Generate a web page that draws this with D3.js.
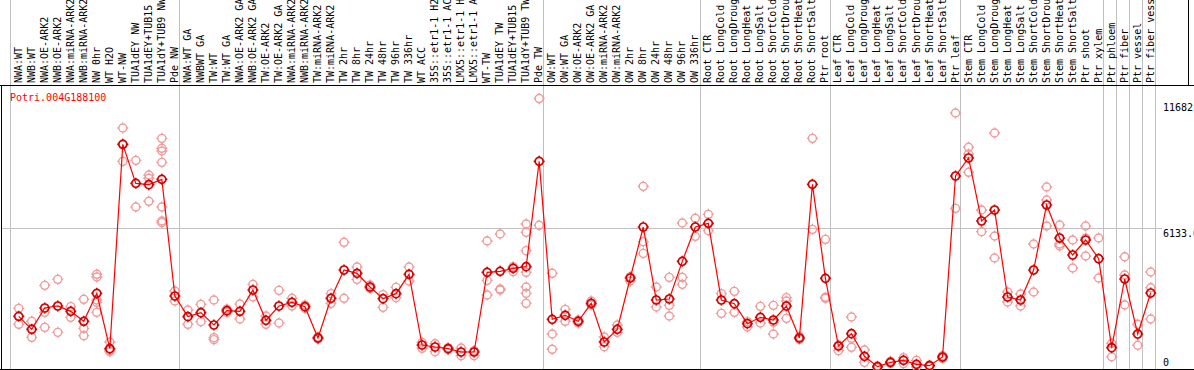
<!DOCTYPE html>
<html>
<head>
<meta charset="utf-8">
<script src="https://cdn.jsdelivr.net/npm/d3@7"></script>
<style>
  html, body { margin: 0; padding: 0; background: #fff; overflow: hidden; }
  svg { display: block; }
  text { font-family: "DejaVu Sans Mono", "Liberation Mono", monospace; font-size: 10px; }
</style>
</head>
<body>
<svg id="chart" width="1194" height="370"></svg>
<script>
const seriesName = "Potri.004G188100";

const categories = [
  "NWA:WT", "NWB:WT", "NWA:OE-ARK2", "NWB:OE-ARK2", "NWA:miRNA-ARK2", "NWB:miRNA-ARK2",
  "NW 0hr", "WT H2O", "WT-NW", "TUA1dEY NW", "TUA1dEY+TUB15 NW", "TUA1dY+TUB9 NW", "Pde NW",
  "NWA:WT GA", "NWBWT GA", "TW:WT", "TW:WT GA", "NWA:OE-ARK2 GA", "NWB:OE-ARK2 GA",
  "TW:OE-ARK2", "TW:OE-ARK2 GA", "NWA:miRNA-ARK2 GA", "NWB:miRNA-ARK2 GA", "TW:miRNA-ARK2",
  "TW:miRNA-ARK2 GA", "TW 2hr", "TW 8hr", "TW 24hr", "TW 48hr", "TW 96hr", "TW 336hr",
  "WT ACC", "35S::etr1-1 H2O", "35S::etr1-1 ACC", "LMX5::etr1-1 H2O", "LMX5::etr1-1 ACC",
  "WT-TW", "TUA1dEY TW", "TUA1dEY+TUB15 TW", "TUA1dY+TUB9 TW", "Pde TW",
  "OW:WT", "OW:WT GA", "OW:OE-ARK2", "OW:OE-ARK2 GA", "OW:miRNA-ARK2", "OW:miRNA-ARK2 GA",
  "OW 2hr", "OW 8hr", "OW 24hr", "OW 48hr", "OW 96hr", "OW 336hr",
  "Root CTR", "Root LongCold", "Root LongDrought", "Root LongHeat", "Root LongSalt",
  "Root ShortCold", "Root ShortDrought", "Root ShortHeat", "Root ShortSalt", "Ptr root",
  "Leaf CTR", "Leaf LongCold", "Leaf LongDrought", "Leaf LongHeat", "Leaf LongSalt",
  "Leaf ShortCold", "Leaf ShortDrought", "Leaf ShortHeat", "Leaf ShortSalt", "Ptr leaf",
  "Stem CTR", "Stem LongCold", "Stem LongDrought", "Stem LongHeat", "Stem LongSalt",
  "Stem ShortCold", "Stem ShortDrought", "Stem ShortHeat", "Stem ShortSalt", "Ptr shoot", "Ptr xylem",
  "Ptr phloem", "Ptr fiber", "Ptr vessel", "Ptr fiber vessel"
];

// index of the last category of every block (separator drawn after it)
const groupEnds = [12, 40, 52, 62, 72, 83, 84, 85, 86, 87];

const meanValues = [
  2310, 1750, 2669, 2755, 2525, 2095, 3300, 918, 9713, 8034, 7977, 8206, 3185,
  2296, 2468, 1937, 2554, 2525, 3443, 2138, 2755, 2912, 2726, 1377, 3085, 4304, 4161,
  3572, 3070, 3285, 4118, 1076, 990, 918, 775, 775, 4204, 4247, 4376, 4448, 8981,
  2181, 2353, 2095, 2869, 1205, 1750, 3960, 6155, 3013, 3056, 4677, 6155,
  6313, 3013, 2855, 1994, 2267, 2152, 2755, 1377, 7991, 3945,
  1033, 1564, 588, 143, 330, 416, 244, 187, 560, 8350,
  9125, 6413, 6886, 3142, 3013, 4304, 7102, 5681, 4950, 5595, 4790,
  960, 3917, 1549, 3314
];

const replicateValues = [
  [2654, 1966], [2095, 1406], [3644, 2482, 1836], [3902, 1621], [2726, 2267],
  [3042, 1793, 1478], [4118, 4003, 3013, 2912, 2482], [1205, 846, 789, 900],
  [10416, 9713, 8981], [9024, 7016], [8393, 8250, 7260],
  [9971, 9541, 9426, 8938, 7016, 6413, 6341], [3400, 2970],
  [2582, 1966], [2826, 2080], [3013, 1392, 1306], [2626, 2482], [2841, 2195],
  [3687, 3142], [2324, 1966], [3429, 2023], [3085, 2755], [2798, 2654],
  [1420, 1334], [3285, 2869], [5495, 3085], [4433, 3902], [3659, 3515],
  [3242, 2697], [3558, 3113], [4433, 3831], [1191, 933], [1133, 789],
  [961, 875], [947, 617], [832, 617], [5552, 3859, 3228], [5854, 3486, 3443],
  [4448, 4232], [6284, 5925, 5136, 4204, 3572, 3300, 2869], [11682, 6227],
  [4161, 1549, 890], [2611, 2095], [2152, 2023], [2970, 2798], [1420, 1004],
  [1937, 1621], [4017, 3831], [7905, 5524, 5021], [3572, 2712],
  [3988, 2783, 2324], [6327, 3988, 3687], [6528, 5753],
  [6700, 5997], [3285, 2439], [3386, 2482], [2080, 1851], [2740, 2023],
  [2783, 2052, 1549], [3113, 2970, 2224], [1435, 1320], [9971, 6054],
  [5624, 3128, 3085],
  [1076, 832], [2281, 1363, 976], [861, 330], [172, 100], [373, 287],
  [531, 273], [416, 143], [215, 158], [617, 502], [11062, 6958],
  [9584, 9297, 8508], [6887, 5954], [10200, 5767, 4820], [3357, 2927],
  [3271, 2755], [5423, 3357], [7876, 7317, 6198], [6241, 5423, 5337],
  [5595, 4390], [6198, 5681, 4907], [5681, 3960],
  [1149, 572], [4876, 4089, 2798], [1967, 1063], [4218, 3542, 2195]
];

const width = 1194;
const height = 370;
const headerBottom = 85;
const plotLeft = 10;
const plotRight = 1155;
const plotBottom = 370;

const dataMax = d3.max(replicateValues.flat());
const yMax = dataMax * 1.05;
const yTicks = [0, yMax / 2, dataMax];

const svg = d3.select("#chart");

const x = d3.scaleBand()
  .domain(d3.range(categories.length))
  .range([plotLeft, plotRight]);
const px = i => x(i) + x.bandwidth() * 0.67;

const y = d3.scaleLinear()
  .domain([0, yMax])
  .range([plotBottom, headerBottom]);

// separators between blocks, through header and plot
const sepIdx = [0].concat(groupEnds.map(d => d + 1));
svg.append("g")
  .selectAll("line")
  .data(sepIdx)
  .enter()
  .append("line")
  .attr("x1", d => Math.round(d < categories.length ? x(d) : plotRight) + 0.5)
  .attr("x2", d => Math.round(d < categories.length ? x(d) : plotRight) + 0.5)
  .attr("y1", 0)
  .attr("y2", height - 1)
  .attr("stroke", "#c0c0c0")
  .attr("shape-rendering", "crispEdges");

// middle gridline
svg.append("line")
  .attr("x1", 1)
  .attr("x2", 1162)
  .attr("y1", Math.round(y(yMax / 2)) + 0.5)
  .attr("y2", Math.round(y(yMax / 2)) + 0.5)
  .attr("stroke", "#c0c0c0")
  .attr("shape-rendering", "crispEdges");

// frame
const frame = svg.append("g").attr("stroke", "#000").attr("shape-rendering", "crispEdges");
frame.append("line").attr("x1", 0).attr("x2", width).attr("y1", headerBottom + 0.5).attr("y2", headerBottom + 0.5);
frame.append("line").attr("x1", 0).attr("x2", width).attr("y1", height - 0.5).attr("y2", height - 0.5);
frame.append("line").attr("x1", 1.5).attr("x2", 1.5).attr("y1", headerBottom).attr("y2", height);
frame.append("line").attr("x1", 1188.5).attr("x2", 1188.5).attr("y1", 0).attr("y2", headerBottom);

// category labels, rotated
svg.append("g")
  .selectAll("text")
  .data(categories)
  .enter()
  .append("text")
  .attr("transform", (d, i) => `translate(${px(i) + 3},${headerBottom - 2}) rotate(-90)`)
  .attr("fill", "#000")
  .text(d => d);

// y labels on the right
svg.append("g")
  .selectAll("text")
  .data(yTicks)
  .enter()
  .append("text")
  .attr("x", 1163)
  .attr("y", d => Math.max(111, Math.min(366, y(d) + 9)))
  .attr("fill", "#000")
  .text(d => String(+d.toFixed(2)));

// series name
svg.append("text")
  .attr("x", 10)
  .attr("y", 101)
  .attr("fill", "#ff0000")
  .text(seriesName);

// marker: ring with four small spokes
const r = 4;
const marker = `M${r},0A${r},${r} 0 1,1 ${-r},0A${r},${r} 0 1,1 ${r},0` +
  `M0,${-r - 1.5}V${-r + 0.5}M0,${r - 0.5}V${r + 1.5}` +
  `M${-r - 1.5},0H${-r + 0.5}M${r - 0.5},0H${r + 1.5}`;

// replicate points
const reps = replicateValues.flatMap((vals, i) => vals.map(v => ({ i, v })));
svg.append("g")
  .selectAll("path")
  .data(reps)
  .enter()
  .append("path")
  .attr("transform", d => `translate(${px(d.i)},${y(d.v)})`)
  .attr("d", marker)
  .attr("fill", "none")
  .attr("stroke", "#f09a9a")
  .attr("stroke-width", 1.4);

// mean line
svg.append("path")
  .datum(meanValues)
  .attr("d", d3.line().x((d, i) => px(i)).y(d => y(d)))
  .attr("fill", "none")
  .attr("stroke", "#ff0000")
  .attr("stroke-width", 1.2);

// mean points
svg.append("g")
  .selectAll("path")
  .data(meanValues)
  .enter()
  .append("path")
  .attr("transform", (d, i) => `translate(${px(i)},${y(d)})`)
  .attr("d", marker)
  .attr("fill", "none")
  .attr("stroke", "#d00000")
  .attr("stroke-width", 1.7);
</script>
</body>
</html>
